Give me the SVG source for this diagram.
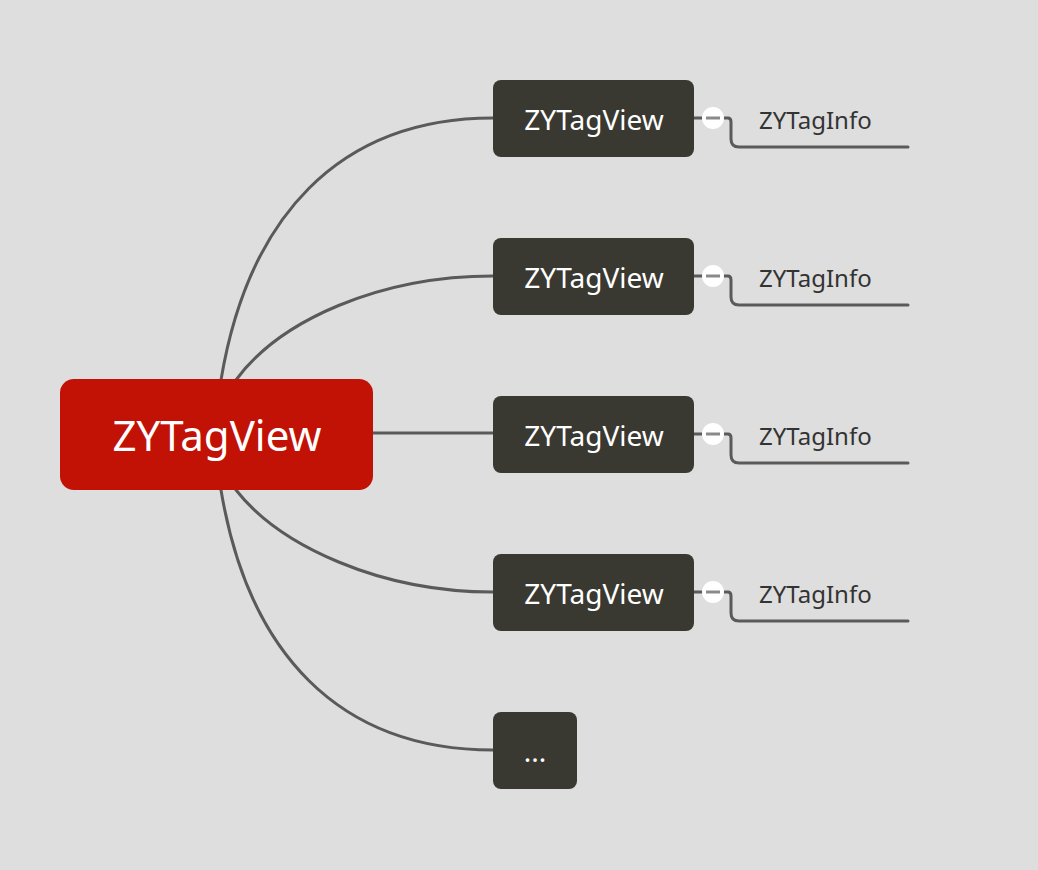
<svg xmlns="http://www.w3.org/2000/svg" width="1038" height="870" viewBox="0 0 1038 870">
  <defs>
    <style>
      .bg { fill: #dedede; }
      .link { fill: none; stroke: #5a5a5a; stroke-width: 3; stroke-linecap: round; stroke-linejoin: round; }
      .root rect { fill: #c21105; }
      .root text { fill: #ffffff; font-family: "Noto Sans", "Liberation Sans", sans-serif; font-size: 42px; text-anchor: middle; }
      .topic rect { fill: #393932; }
      .topic text { fill: #ffffff; font-family: "Noto Sans", "Liberation Sans", sans-serif; font-size: 28px; text-anchor: middle; }
      .sub text { fill: #333333; font-family: "Noto Sans", "Liberation Sans", sans-serif; font-size: 24px; }
      .fold circle { fill: #ffffff; }
      .fold line { stroke: #8a8a8a; stroke-width: 3; }
    </style>
    <g id="foldBtn" class="fold">
      <circle cx="0" cy="0" r="11"/>
      <line x1="-7" y1="0" x2="7" y2="0"/>
    </g>
  </defs>

  <rect class="bg" x="0" y="0" width="1038" height="870"/>

  <!-- connectors -->
  <g id="connectors">
    <path class="link" d="M221,380 C248,218 338,118 493,118"/>
    <path class="link" d="M236,380 C280,320 380,276 493,276"/>
    <path class="link" d="M373,433 L493,433"/>
    <path class="link" d="M236,490 C280,546 380,592 493,592"/>
    <path class="link" d="M221,490 C248,652 338,750 493,750"/>

    <path class="link" d="M694,118 L702,118 M724,118 L728,118 Q731,118 731,122 L731,139 Q731,147 739,147 L908,147"/>
    <path class="link" d="M694,276 L702,276 M724,276 L728,276 Q731,276 731,280 L731,297 Q731,305 739,305 L908,305"/>
    <path class="link" d="M694,434 L702,434 M724,434 L728,434 Q731,434 731,438 L731,455 Q731,463 739,463 L908,463"/>
    <path class="link" d="M694,592 L702,592 M724,592 L728,592 Q731,592 731,596 L731,613 Q731,621 739,621 L908,621"/>
  </g>

  <!-- central topic -->
  <g id="root" class="root">
    <rect x="60" y="379" width="313" height="111" rx="14"/>
    <text x="217" y="451">ZYTagView</text>
  </g>

  <!-- main topics -->
  <g id="topic1" class="topic">
    <rect x="493" y="80" width="201" height="77" rx="8"/>
    <text x="594" y="130">ZYTagView</text>
  </g>
  <g id="topic2" class="topic">
    <rect x="493" y="238" width="201" height="77" rx="8"/>
    <text x="594" y="288">ZYTagView</text>
  </g>
  <g id="topic3" class="topic">
    <rect x="493" y="396" width="201" height="77" rx="8"/>
    <text x="594" y="446">ZYTagView</text>
  </g>
  <g id="topic4" class="topic">
    <rect x="493" y="554" width="201" height="77" rx="8"/>
    <text x="594" y="604">ZYTagView</text>
  </g>
  <g id="topic5" class="topic">
    <rect x="493" y="712" width="84" height="77" rx="8"/>
    <text x="535" y="762">...</text>
  </g>

  <!-- collapse buttons -->
  <g id="fold1"><use href="#foldBtn" x="713" y="118"/></g>
  <g id="fold2"><use href="#foldBtn" x="713" y="276"/></g>
  <g id="fold3"><use href="#foldBtn" x="713" y="434"/></g>
  <g id="fold4"><use href="#foldBtn" x="713" y="592"/></g>

  <!-- subtopics -->
  <g id="sub1" class="sub"><text x="759" y="129">ZYTagInfo</text></g>
  <g id="sub2" class="sub"><text x="759" y="287">ZYTagInfo</text></g>
  <g id="sub3" class="sub"><text x="759" y="445">ZYTagInfo</text></g>
  <g id="sub4" class="sub"><text x="759" y="603">ZYTagInfo</text></g>
</svg>
